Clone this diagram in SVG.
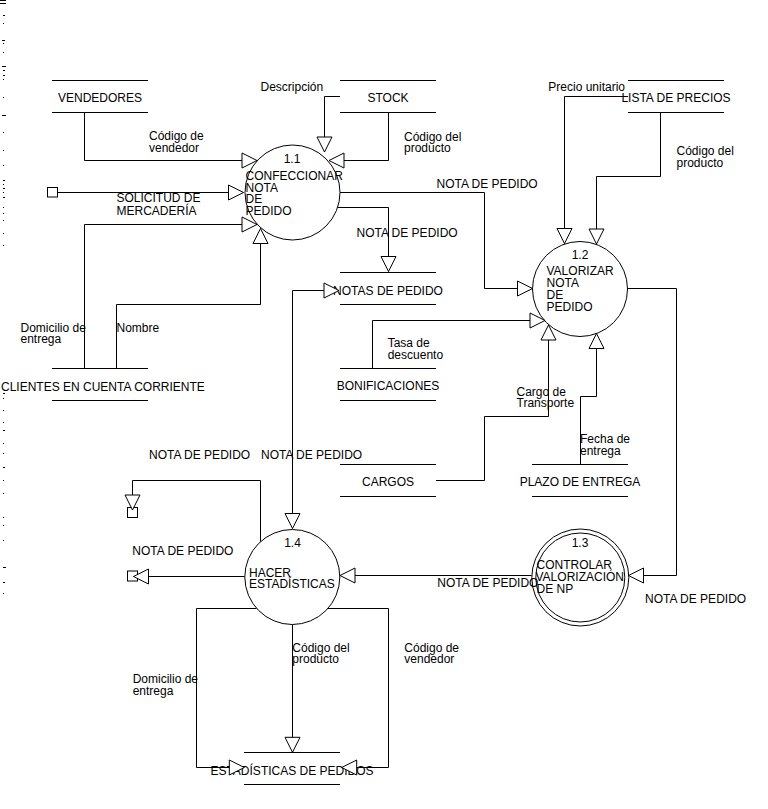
<svg xmlns="http://www.w3.org/2000/svg" width="768" height="809" viewBox="0 0 768 809">
<style>
text{font-family:"Liberation Sans",Arial,sans-serif;font-size:12px;fill:#000}
.m{text-anchor:middle}
.ln{fill:none;stroke:#000;stroke-width:1}
.pc{fill:#fff;stroke:#000;stroke-width:1}
.fl{fill:none;stroke:#000;stroke-width:1;marker-end:url(#a)}
.sq{fill:#fff;stroke:#000;stroke-width:1}
.tk{fill:none;stroke:#000;stroke-width:1}
</style>
<defs>
<marker id="a" markerUnits="userSpaceOnUse" markerWidth="16" markerHeight="16" refX="15" refY="7.5" orient="auto" overflow="visible"><path d="M0,0 L15,7.5 L0,15 Z" fill="#fff" stroke="#000" stroke-width="1"/></marker>
</defs>
<rect width="768" height="809" fill="#fff"/>
<g id="edge-marks">
<path class="tk" d="M0,0.5 H6 M0,3.5 H6 M3,15.5 H5 M3,23.5 H4 M2,40.5 H5 M3,43.5 H4 M3,52.5 H4 M2,66.5 H6 M3,70.5 H5 M3,75.5 H5 M3,79.5 H4 M3,97.5 H4 M2,115.5 H6 M3,132.5 H4 M3,150.5 H4 M3,165.5 H4 M3,180.5 H5 M3,184.5 H4 M3,188.5 H5 M3,192.5 H4 M3,197.5 H5 M3,207.5 H4 M3,213.5 H4 M3,220.5 H4 M3,233.5 H4 M3,245.5 H4 M3,393.5 H5 M3,398.5 H4 M3,410.5 H4 M3,422.5 H4 M3,430.5 H5 M3,443.5 H4 M3,453.5 H4 M3,467.5 H5 M3,480.5 H4 M3,493.5 H4 M3,517.5 H4 M3,525.5 H4 M3,540.5 H4 M3,567.5 H6 M3,582.5 H5 M3,593.5 H4"/>
</g>
<g id="vendedores">
<path class="ln" d="M52,80.5 H148 M52,112.5 H148"/>
<text class="m" x="100" y="102">VENDEDORES</text>
</g>
<g id="stock">
<path class="ln" d="M340,80.5 H436 M340,112.5 H436"/>
<text class="m" x="388" y="102">STOCK</text>
</g>
<g id="lista-precios">
<path class="ln" d="M628,80.5 H724 M628,112.5 H724"/>
<text class="m" x="676" y="102">LISTA DE PRECIOS</text>
</g>
<g id="notas-pedido">
<path class="ln" d="M340,272.5 H436 M340,304.5 H436"/>
<text class="m" x="388" y="294.5">NOTAS DE PEDIDO</text>
</g>
<g id="bonificaciones">
<path class="ln" d="M340,368.5 H436 M340,400.5 H436"/>
<text class="m" x="388" y="390">BONIFICACIONES</text>
</g>
<g id="cargos">
<path class="ln" d="M340,464.5 H436 M340,496.5 H436"/>
<text class="m" x="388" y="486">CARGOS</text>
</g>
<g id="plazo-entrega">
<path class="ln" d="M532,464.5 H628 M532,496.5 H628"/>
<text class="m" x="580" y="486">PLAZO DE ENTREGA</text>
</g>
<g id="clientes">
<path class="ln" d="M52,368.5 H148 M52,400.5 H148"/>
<text x="1" y="391">CLIENTES EN CUENTA CORRIENTE</text>
</g>
<g id="estadisticas-pedidos">
<path class="ln" d="M244,752.5 H340 M244,784.5 H340"/>
<text class="m" x="292" y="775">ESTADÍSTICAS DE PEDIDOS</text>
</g>
<g id="p1-1">
<circle class="pc" cx="292.5" cy="192.5" r="47.5"/>
<text class="m" x="292" y="162.5">1.1</text>
<text x="245.5" y="180">CONFECCIONAR<tspan x="245.5" dy="11.7">NOTA</tspan><tspan x="245.5" dy="11.7">DE</tspan><tspan x="245.5" dy="11.6">PEDIDO</tspan></text>
</g>
<g id="p1-2">
<circle class="pc" cx="580" cy="289" r="47.5"/>
<text class="m" x="580" y="259">1.2</text>
<text x="546.5" y="275">VALORIZAR<tspan x="546.5" dy="11.8">NOTA</tspan><tspan x="546.5" dy="11.9">DE</tspan><tspan x="546.5" dy="11.9">PEDIDO</tspan></text>
</g>
<g id="p1-3">
<circle class="pc" cx="580.3" cy="577.5" r="48.5"/>
<circle class="pc" cx="580.3" cy="577.5" r="44.5"/>
<text class="m" x="580" y="546.7">1.3</text>
<text x="536.5" y="569">CONTROLAR<tspan x="535.5" dy="12">VALORIZACIÓN</tspan><tspan x="536.5" dy="11.7">DE NP</tspan></text>
</g>
<g id="p1-4">
<circle class="pc" cx="292.3" cy="577" r="47.5"/>
<text class="m" x="292.5" y="547">1.4</text>
<text x="249" y="576.7">HACER<tspan x="249" dy="11.7">ESTADÍSTICAS</tspan></text>
</g>
<g id="ext-solicitud"><rect class="sq" x="47.5" y="187.5" width="10" height="9.5"/></g>
<g id="ext-np-1"><rect class="sq" x="127.5" y="507.5" width="10" height="10"/></g>
<g id="ext-np-2"><rect class="sq" x="127.5" y="571" width="10" height="10"/></g>
<g id="connectors">
<path class="fl" d="M84.5,112.5 V160.5 H257"/>
<path class="fl" d="M340,96.5 H324.5 V152"/>
<path class="fl" d="M388.5,112.5 V160.5 H329"/>
<path class="fl" d="M57.5,192.5 H243.5"/>
<path class="fl" d="M84.5,368 V224.5 H257"/>
<path class="fl" d="M116.5,368 V304.5 H260.5 V228.5"/>
<path class="fl" d="M340,192.5 H484.5 V288.5 H532.5"/>
<path class="fl" d="M337.5,207.5 H388.5 V271.5"/>
<path class="fl" d="M628,96.5 H564.5 V243.5"/>
<path class="fl" d="M660.5,112.5 V176.5 H596.5 V244"/>
<path class="fl" d="M372.5,368.5 V320.5 H545"/>
<path class="fl" d="M436,480.5 H484.5 V416.5 H548.5 V325"/>
<path class="fl" d="M580.5,464.5 V396.5 H596.5 V333.5"/>
<path class="fl" d="M627.5,288.5 H676.5 V575.5 H628.5"/>
<path class="fl" d="M531.5,575.5 H340"/>
<path class="fl" d="M292.5,290.5 H339"/>
<path class="fl" d="M292.5,290.5 V528.5"/>
<path class="fl" d="M260.5,541.5 V480.5 H132.5 V510"/>
<path class="fl" d="M244.5,576.5 H133.5"/>
<path class="fl" d="M256.5,608.5 H196.5 V767.5 H244.3"/>
<path class="fl" d="M292.5,624.5 V752.3"/>
<path class="fl" d="M327.7,608.5 H388.5 V767.5 H341.7"/>
</g>
<g id="labels">
<text x="149" y="140">Código de<tspan x="149" dy="11.7">vendedor</tspan></text>
<text x="260.5" y="90.7">Descripción</text>
<text x="404" y="140.5">Código del<tspan x="404" dy="11.5">producto</tspan></text>
<text x="116.5" y="202.3">SOLICITUD DE<tspan x="116.5" dy="12.7">MERCADERÍA</tspan></text>
<text x="436.5" y="188.3">NOTA DE PEDIDO</text>
<text x="356.5" y="236.7">NOTA DE PEDIDO</text>
<text x="20.5" y="331.7">Domicilio de<tspan x="20.5" dy="11.6">entrega</tspan></text>
<text x="116.5" y="331.7">Nombre</text>
<text x="548.3" y="90.7">Precio unitario</text>
<text x="676.5" y="155">Código del<tspan x="676.5" dy="11.7">producto</tspan></text>
<text x="387.7" y="347.3">Tasa de<tspan x="387.7" dy="11.7">descuento</tspan></text>
<text x="516.5" y="395.7">Cargo de<tspan x="516.5" dy="11.6">Transporte</tspan></text>
<text x="580" y="443.3">Fecha de<tspan x="580" dy="11.7">entrega</tspan></text>
<text x="149" y="459">NOTA DE PEDIDO</text>
<text x="261" y="459">NOTA DE PEDIDO</text>
<text x="132.3" y="555">NOTA DE PEDIDO</text>
<text x="437.3" y="586.7">NOTA DE PEDIDO</text>
<text x="645" y="603.3">NOTA DE PEDIDO</text>
<text x="292.3" y="651.7">Código del<tspan x="292.3" dy="11.6">producto</tspan></text>
<text x="404.3" y="651.7">Código de<tspan x="404.3" dy="11.6">vendedor</tspan></text>
<text x="132.7" y="683.3">Domicilio de<tspan x="132.7" dy="11.7">entrega</tspan></text>
</g>
</svg>
